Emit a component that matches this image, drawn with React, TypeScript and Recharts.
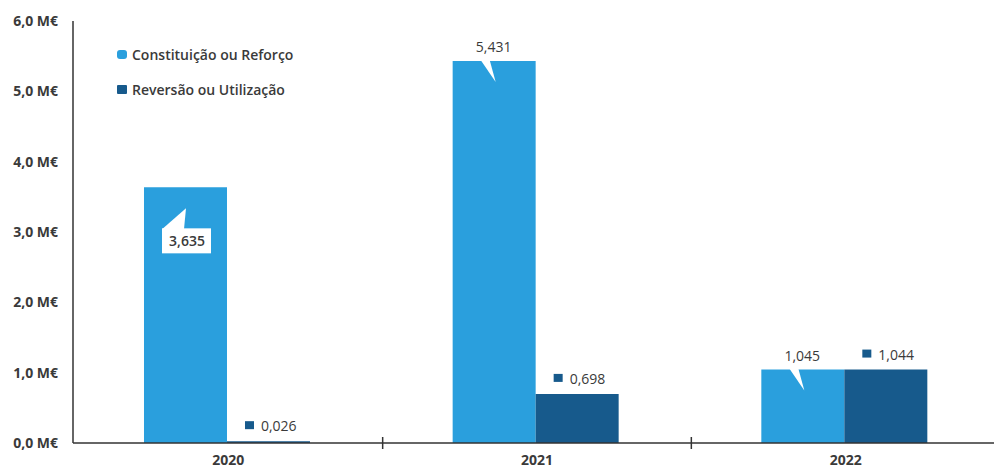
import { BarChart, Bar, XAxis, YAxis, LabelList } from "recharts";

const years = ["2020", "2021", "2022"];
const constituicao = [3.635, 5.431, 1.045];
const reversao = [0.026, 0.698, 1.044];
const yTicks = [0, 1, 2, 3, 4, 5, 6];

const seriesNames = ["Constituição ou Reforço", "Reversão ou Utilização"];

const LIGHT = "#2a9fdd";
const DARK = "#175a8c";
const TEXT = "#3a3a3a";
const FONT = "'Open Sans', 'Noto Sans', sans-serif";

const data = years.map((year, i) => ({
  year,
  constituicao: constituicao[i],
  reversao: reversao[i],
}));

const fmt = (v: number) => v.toFixed(3).replace(".", ",");

const W = 994;
const H = 470;
const AXIS_W = 73;
const RIGHT = -5;
const band = (W - AXIS_W - RIGHT) / years.length;

const LightLabel = (props: any) => {
  const { x, y, value, index } = props;
  if (index === 0) {
    return (
      <g>
        <polygon
          points={`${x + 18},${y + 42} ${x + 40},${y + 42} ${x + 42},${y + 21}`}
          fill="#fff"
        />
        <rect x={x + 18} y={y + 41} width={49} height={25} fill="#fff" />
        <text
          x={x + 43}
          y={y + 59}
          textAnchor="middle"
          fontSize={14}
          fontWeight={600}
          fontFamily={FONT}
          fill={TEXT}
        >
          {fmt(value)}
        </text>
      </g>
    );
  }
  return (
    <g>
      <polygon
        points={`${x + 28},${y - 1} ${x + 37},${y - 1} ${x + 43},${y + 21}`}
        fill="#fff"
      />
      <text
        x={x + 41}
        y={y - 9}
        textAnchor="middle"
        fontSize={14}
        fontFamily={FONT}
        fill={TEXT}
      >
        {fmt(value)}
      </text>
    </g>
  );
};

const DarkLabel = (props: any) => {
  const { x, y, value } = props;
  return (
    <g>
      <rect x={x + 18} y={y - 20} width={9} height={8} fill={DARK} />
      <text
        x={x + 34}
        y={y - 10}
        fontSize={14}
        fontFamily={FONT}
        fill={TEXT}
      >
        {fmt(value)}
      </text>
    </g>
  );
};

const YearTick = (props: any) => {
  const { x, y, payload, index } = props;
  return (
    <g>
      {index < years.length - 1 && (
        <line
          x1={x + band / 2 + 1}
          x2={x + band / 2 + 1}
          y1={y - 14}
          y2={y - 2}
          stroke="#333"
          strokeWidth={1.5}
        />
      )}
      <text
        x={x + 1}
        y={y + 14}
        textAnchor="middle"
        fontSize={14}
        fontWeight="bold"
        fontFamily={FONT}
        fill={TEXT}
      >
        {payload.value}
      </text>
    </g>
  );
};

const LegendBox = () => (
  <div
    style={{
      position: "absolute",
      left: 117,
      top: 37,
      fontFamily: FONT,
      fontSize: 14,
      fontWeight: 600,
      color: TEXT,
    }}
  >
    {seriesNames.map((name, i) => (
      <div
        key={name}
        style={{ display: "flex", alignItems: "center", height: 35 }}
      >
        <span
          style={{
            display: "inline-block",
            width: 10,
            height: 9,
            borderRadius: i === 0 ? 3 : 1,
            background: i === 0 ? LIGHT : DARK,
            marginRight: 5,
          }}
        />
        {name}
      </div>
    ))}
  </div>
);

export default function App() {
  return (
    <div
      style={{
        position: "absolute",
        left: 0,
        top: 0,
        width: W,
        height: H,
        background: "#fff",
        overflow: "hidden",
      }}
    >
      <BarChart
        width={W}
        height={H}
        data={data}
        margin={{ top: 21, right: RIGHT, left: 0, bottom: 0 }}
        barCategoryGap="23%"
        barGap={0}
      >
        <XAxis
          dataKey="year"
          height={27}
          axisLine={{ stroke: "#333", strokeWidth: 1.5 }}
          tickLine={false}
          tick={<YearTick />}
          interval={0}
        />
        <YAxis
          width={AXIS_W}
          domain={[0, 6]}
          ticks={yTicks}
          interval={0}
          axisLine={{ stroke: "#333", strokeWidth: 1.5 }}
          tickLine={false}
          tickMargin={9}
          tickFormatter={(v: number) => `${v.toFixed(1).replace(".", ",")} M€`}
          tick={{
            fill: TEXT,
            fontSize: 14,
            fontWeight: "bold",
            fontFamily: FONT,
          }}
        />
        <Bar
          dataKey="constituicao"
          name={seriesNames[0]}
          fill={LIGHT}
          isAnimationActive={false}
        >
          <LabelList dataKey="constituicao" content={<LightLabel />} />
        </Bar>
        <Bar
          dataKey="reversao"
          name={seriesNames[1]}
          fill={DARK}
          isAnimationActive={false}
        >
          <LabelList dataKey="reversao" content={<DarkLabel />} />
        </Bar>
      </BarChart>
      <LegendBox />
    </div>
  );
}
